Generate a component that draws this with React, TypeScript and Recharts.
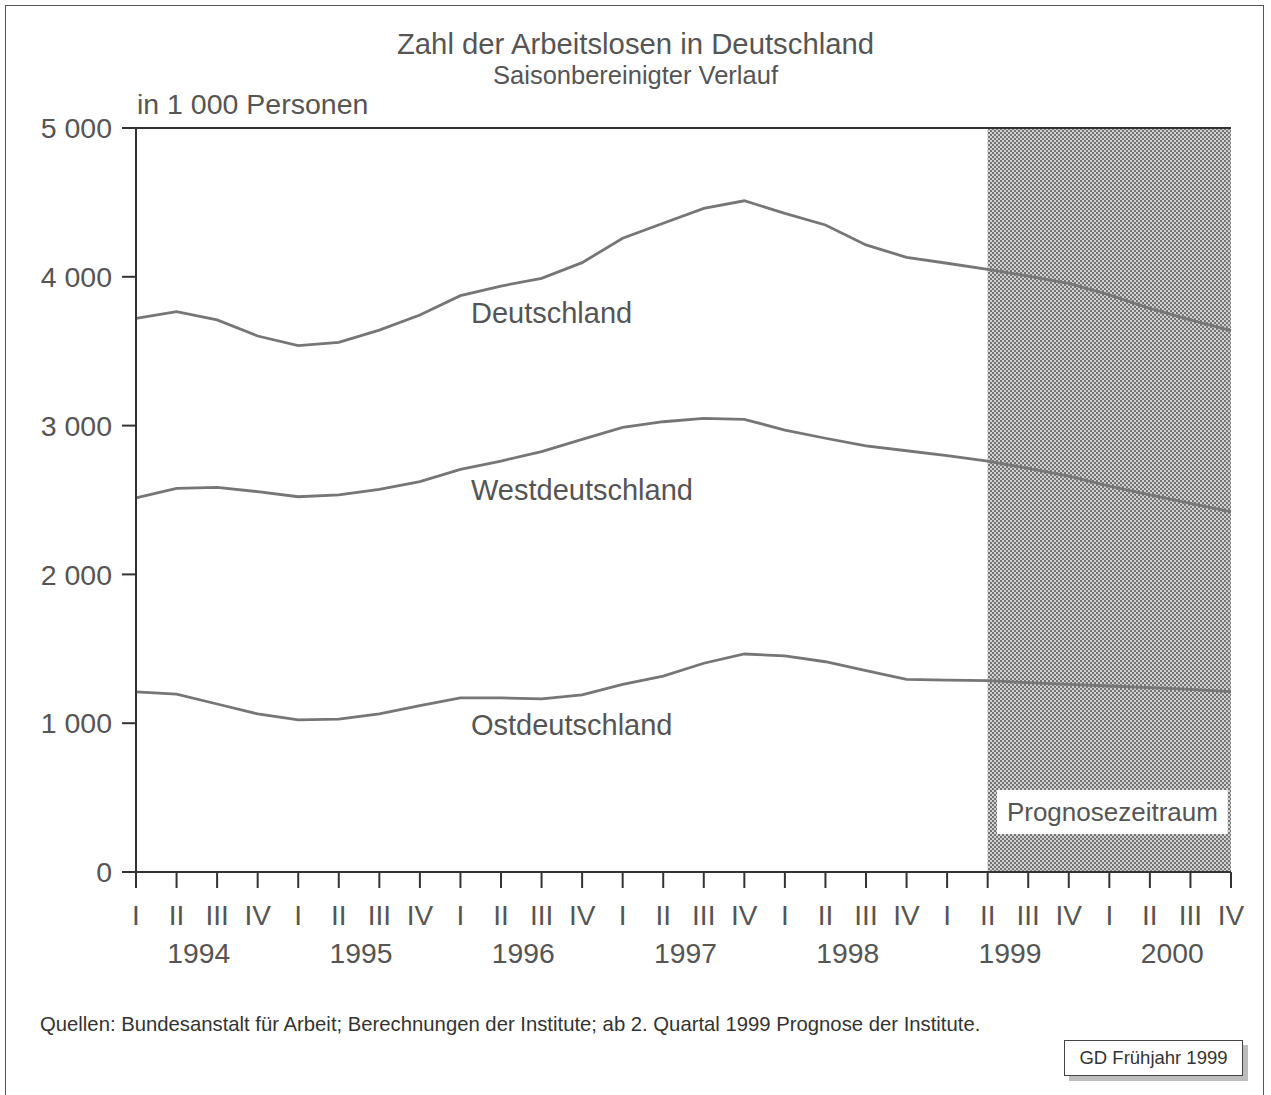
import React from 'react';
import { LineChart, Line, XAxis, YAxis, ReferenceArea, ReferenceLine, ReferenceDot } from 'recharts';

const quarterLabels = [
  'I', 'II', 'III', 'IV', 'I', 'II', 'III', 'IV', 'I', 'II', 'III', 'IV', 'I', 'II',
  'III', 'IV', 'I', 'II', 'III', 'IV', 'I', 'II', 'III', 'IV', 'I', 'II', 'III', 'IV',
];
const yearLabels = ['1994', '1995', '1996', '1997', '1998', '1999', '2000'];
const yearTickPos = [1.5, 5.5, 9.5, 13.5, 17.5, 21.5, 25.5];

const deutschland = [
  3721, 3766, 3710, 3602, 3537, 3560, 3642, 3743, 3873, 3938, 3990, 4095, 4259, 4360,
  4460, 4511, 4426, 4348, 4214, 4131, 4091, 4050, 4005, 3956, 3878, 3788, 3710, 3638,
];
const westdeutschland = [
  2515, 2578, 2585, 2556, 2522, 2534, 2572, 2623, 2706, 2762, 2825, 2908, 2988, 3026,
  3049, 3042, 2970, 2915, 2863, 2831, 2798, 2762, 2713, 2661, 2594, 2534, 2478, 2421,
];
const ostdeutschland = [
  1211, 1196, 1129, 1062, 1022, 1028, 1062, 1118, 1170, 1170, 1163, 1190, 1261, 1317,
  1403, 1465, 1452, 1413, 1353, 1294, 1290, 1286, 1272, 1261, 1250, 1239, 1228, 1212,
];

const yTicks = [0, 1000, 2000, 3000, 4000, 5000];
const yTickLabels = ['0', '1 000', '2 000', '3 000', '4 000', '5 000'];

const forecastStart = 21;
const forecastEnd = 27;

const seriesLabels = [
  { text: 'Deutschland', x: 8.26, y: 3757 },
  { text: 'Westdeutschland', x: 8.26, y: 2567 },
  { text: 'Ostdeutschland', x: 8.26, y: 988 },
];

const data = quarterLabels.map((q, i) => ({
  i,
  q,
  d: deutschland[i],
  w: westdeutschland[i],
  o: ostdeutschland[i],
}));
const quarterTicks = quarterLabels.map((_, i) => i);

const FONT = '"Liberation Sans", Arial, Helvetica, sans-serif';
const TEXT = '#555555';
const AXIS = '#333333';
const LINE = '#767676';

const QuarterTick = (props: any) => {
  const { x, y, payload } = props;
  return (
    <text x={x} y={y} dy={35} textAnchor="middle" fontSize={28} fill={TEXT} fontFamily={FONT}>
      {quarterLabels[payload.value]}
    </text>
  );
};

const YearTick = (props: any) => {
  const { x, y, payload } = props;
  const idx = yearTickPos.indexOf(payload.value);
  return (
    <text x={x + 2} y={y} dy={31} textAnchor="middle" fontSize={28.3} fill={TEXT} fontFamily={FONT}>
      {yearLabels[idx]}
    </text>
  );
};

const ValueTick = (props: any) => {
  const { x, y, payload } = props;
  const idx = yTicks.indexOf(payload.value);
  return (
    <text x={x} y={y} dy="0.355em" textAnchor="end" fontSize={28.5} fill={TEXT} fontFamily={FONT}>
      {yTickLabels[idx]}
    </text>
  );
};

const SeriesLabel = (props: any) => {
  const { viewBox, text } = props;
  const x = viewBox ? viewBox.x + (viewBox.width || 0) / 2 : 0;
  const y = viewBox ? viewBox.y + (viewBox.height || 0) / 2 : 0;
  return (
    <text x={x} y={y} dy="0.36em" textAnchor="start" fontSize={29} fill={TEXT} fontFamily={FONT}>
      {text}
    </text>
  );
};

export default function App() {
  return (
    <div style={{ position: 'absolute', left: 0, top: 0, width: 1271, height: 1095, background: '#fff', fontFamily: FONT }}>
      <div
        style={{
          position: 'absolute',
          left: 5,
          top: 5,
          width: 1259,
          height: 1095,
          borderLeft: '1.5px solid #555',
          borderTop: '1.5px solid #555',
          borderRight: '1.5px solid #555',
          boxSizing: 'border-box',
        }}
      />
      <LineChart
        width={1271}
        height={1095}
        data={data}
        margin={{ top: 128, right: 40, bottom: 113, left: 0 }}
        style={{ position: 'absolute', left: 0, top: 0 }}
      >
        <defs>
          <pattern id="hatch" width="4" height="4" patternUnits="userSpaceOnUse">
            <rect width="4" height="4" fill="#d2d2d2" />
            <rect width="2" height="2" fill="#747474" />
            <rect x="2" y="2" width="2" height="2" fill="#747474" />
          </pattern>
        </defs>
        <XAxis
          xAxisId="q"
          dataKey="i"
          type="number"
          domain={[0, 27]}
          ticks={quarterTicks}
          interval={0}
          tickSize={16}
          tickMargin={2}
          height={60}
          stroke={AXIS}
          strokeWidth={2}
          tick={<QuarterTick />}
          allowDecimals={false}
        />
        <XAxis
          xAxisId="y"
          dataKey="i"
          type="number"
          domain={[0, 27]}
          ticks={yearTickPos}
          interval={0}
          axisLine={false}
          tickLine={false}
          tickSize={0}
          tickMargin={0}
          height={50}
          tick={<YearTick />}
        />
        <YAxis
          domain={[0, 5000]}
          ticks={yTicks}
          interval={0}
          width={136}
          tickSize={14}
          tickMargin={10}
          stroke={AXIS}
          strokeWidth={2}
          tick={<ValueTick />}
        />
        <ReferenceArea
          xAxisId="q"
          x1={forecastStart}
          x2={forecastEnd}
          y1={0}
          y2={5000}
          fill="url(#hatch)"
          fillOpacity={1}
          stroke="none"
        />
        <ReferenceArea
          xAxisId="q"
          x1={21.23}
          x2={26.92}
          y1={255}
          y2={551}
          fill="#ffffff"
          fillOpacity={1}
          stroke="none"
          label={{ value: 'Prognosezeitraum', position: 'center', fontSize: 26, fill: TEXT, fontFamily: FONT }}
        />
        <ReferenceLine xAxisId="q" y={5000} stroke={AXIS} strokeWidth={2} />
        {seriesLabels.map((l) => (
          <ReferenceDot
            key={l.text}
            xAxisId="q"
            x={l.x}
            y={l.y}
            r={0}
            fill="none"
            stroke="none"
            label={<SeriesLabel text={l.text} />}
          />
        ))}
        <Line xAxisId="q" type="linear" dataKey="d" stroke={LINE} strokeWidth={2.8} dot={false} isAnimationActive={false} />
        <Line xAxisId="q" type="linear" dataKey="w" stroke={LINE} strokeWidth={2.8} dot={false} isAnimationActive={false} />
        <Line xAxisId="q" type="linear" dataKey="o" stroke={LINE} strokeWidth={2.8} dot={false} isAnimationActive={false} />
      </LineChart>

      <div style={{ position: 'absolute', left: 0, top: 26, width: 1271, textAlign: 'center', fontSize: 29.3, lineHeight: 1.2, color: TEXT }}>
        Zahl der Arbeitslosen in Deutschland
      </div>
      <div style={{ position: 'absolute', left: 0, top: 60, width: 1271, textAlign: 'center', fontSize: 25.5, lineHeight: 1.2, color: TEXT }}>
        Saisonbereinigter Verlauf
      </div>
      <div style={{ position: 'absolute', left: 137, top: 87, fontSize: 28.5, lineHeight: 1.2, color: TEXT, whiteSpace: 'nowrap' }}>
        in 1 000 Personen
      </div>
      <div style={{ position: 'absolute', left: 40, top: 1012, fontSize: 20.3, lineHeight: 1.2, color: '#333', whiteSpace: 'nowrap' }}>
        Quellen: Bundesanstalt für Arbeit; Berechnungen der Institute; ab 2. Quartal 1999 Prognose der Institute.
      </div>
      <div
        style={{
          position: 'absolute',
          left: 1064,
          top: 1040,
          width: 179,
          height: 36,
          border: '1px solid #444',
          background: '#fff',
          boxShadow: '5px 5px 0 #bdbdbd',
          boxSizing: 'border-box',
          display: 'flex',
          alignItems: 'center',
          justifyContent: 'center',
          fontSize: 18.5,
          color: '#333',
          whiteSpace: 'nowrap',
        }}
      >
        GD Frühjahr 1999
      </div>
    </div>
  );
}
